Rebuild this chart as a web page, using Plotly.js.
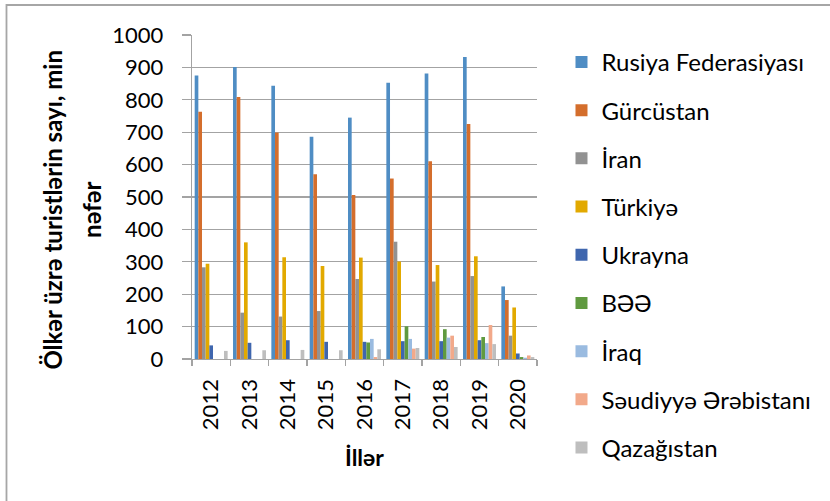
<!DOCTYPE html>
<html>
<head>
<meta charset="utf-8">
<script src="https://cdn.plot.ly/plotly-3.0.1.min.js"></script>
<style>html,body{margin:0;padding:0;background:#fff;}#chart{width:830px;height:501px;}</style>
</head>
<body>
<div id="chart"></div>
<script>
const years = ['2012','2013','2014','2015','2016','2017','2018','2019','2020'];
const seriesNames = ['Rusiya Federasiyası','Gürcüstan','İran','Türkiyə','Ukrayna','BƏƏ','İraq','Səudiyyə Ərəbistanı','Qazağıstan'];
const russia  = [875, 901, 843, 686, 745, 853, 881, 932, 224];
const georgia = [763, 809, 699, 570, 506, 557, 610, 725, 182];
const iran    = [283, 143, 131, 148, 247, 362, 239, 256, 72];
const turkey  = [294, 360, 314, 287, 313, 301, 290, 317, 159];
const ukraine = [42, 50, 58, 53, 53, 55, 55, 58, 17];
const uae     = [0, 0, 0, 0, 51, 101, 92, 68, 6];
const iraq    = [0, 0, 0, 0, 62, 62, 66, 49, 4];
const saudi   = [0, 0, 0, 0, 6, 32, 72, 105, 11];
const kazakh  = [25, 27, 28, 27, 30, 34, 37, 46, 6];
const colors = ['#4F8DC4','#D46E2C','#929292','#E2A900','#3F66AE','#609A40','#9ABBE0','#F2A98A','#BEBEBE'];
const allValues = [russia, georgia, iran, turkey, ukraine, uae, iraq, saudi, kazakh];

const FONT = 'Lato, "Open Sans", sans-serif';
const GRID = '#A3A3A3';

const traces = allValues.map((vals, i) => ({
  type: 'bar',
  name: seriesNames[i],
  x: years,
  y: vals,
  legendgroup: 'g' + i,
  marker: {color: colors[i], line: {width: 0}},
  hoverinfo: 'name+y'
}));

const layout = {
  width: 830,
  height: 501,
  margin: {l: 192, r: 293, t: 35, b: 142},
  paper_bgcolor: '#fff',
  plot_bgcolor: '#fff',
  font: {family: FONT, size: 22, color: '#000'},
  barmode: 'group',
  bargap: 0.14,
  bargroupgap: 0,
  showlegend: true,
  legend: {
    x: 1.071, xanchor: 'left', y: 0.985, yanchor: 'top',
    font: {family: FONT, size: 24, color: '#000'},
    tracegroupgap: 14,
    traceorder: 'grouped',
    maxheight: 490,
    bgcolor: 'rgba(0,0,0,0)'
  },
  xaxis: {
    type: 'category',
    showline: true, linecolor: GRID, linewidth: 1.3,
    ticks: 'outside', tickson: 'boundaries', ticklen: 6, tickcolor: GRID, tickwidth: 1.3,
    tickangle: -90,
    ticklabelstandoff: 10,
    showgrid: false,
    tickfont: {family: FONT, size: 22, color: '#000'}
  },
  yaxis: {
    range: [0, 1000], dtick: 100, tick0: 0,
    showline: true, linecolor: GRID, linewidth: 1.3,
    ticks: 'outside', ticklen: 9, tickcolor: GRID, tickwidth: 1.3,
    showgrid: true, gridcolor: GRID, gridwidth: 1.3,
    zeroline: false,
    ticklabelstandoff: 14,
    tickfont: {family: FONT, size: 22, color: '#000'}
  },
  annotations: [
    {text: '<b>Ölkər üzrə turistlərin sayı, min</b>', xref: 'paper', yref: 'paper',
     x: -0.404, y: 0.46, xanchor: 'center', yanchor: 'middle', textangle: -90,
     showarrow: false, font: {family: FONT, size: 24, color: '#000'}},
    {text: '<b>nəfər</b>', xref: 'paper', yref: 'paper',
     x: -0.29, y: 0.46, xanchor: 'center', yanchor: 'middle', textangle: -90,
     showarrow: false, font: {family: FONT, size: 24, color: '#000'}},
    {text: '<b>İllər</b>', xref: 'paper', yref: 'paper',
     x: 0.501, y: -0.302, xanchor: 'center', yanchor: 'middle',
     showarrow: false, font: {family: FONT, size: 23, color: '#000'}}
  ],
  shapes: [
    {type: 'rect', xref: 'paper', yref: 'paper', x0: -0.5377, x1: 3, y0: -3, y1: 1.0926,
     line: {color: '#A6A6A6', width: 1.8}, fillcolor: 'rgba(0,0,0,0)', layer: 'below'}
  ]
};

Plotly.newPlot('chart', traces, layout, {displayModeBar: false, staticPlot: true});
</script>
</body>
</html>
